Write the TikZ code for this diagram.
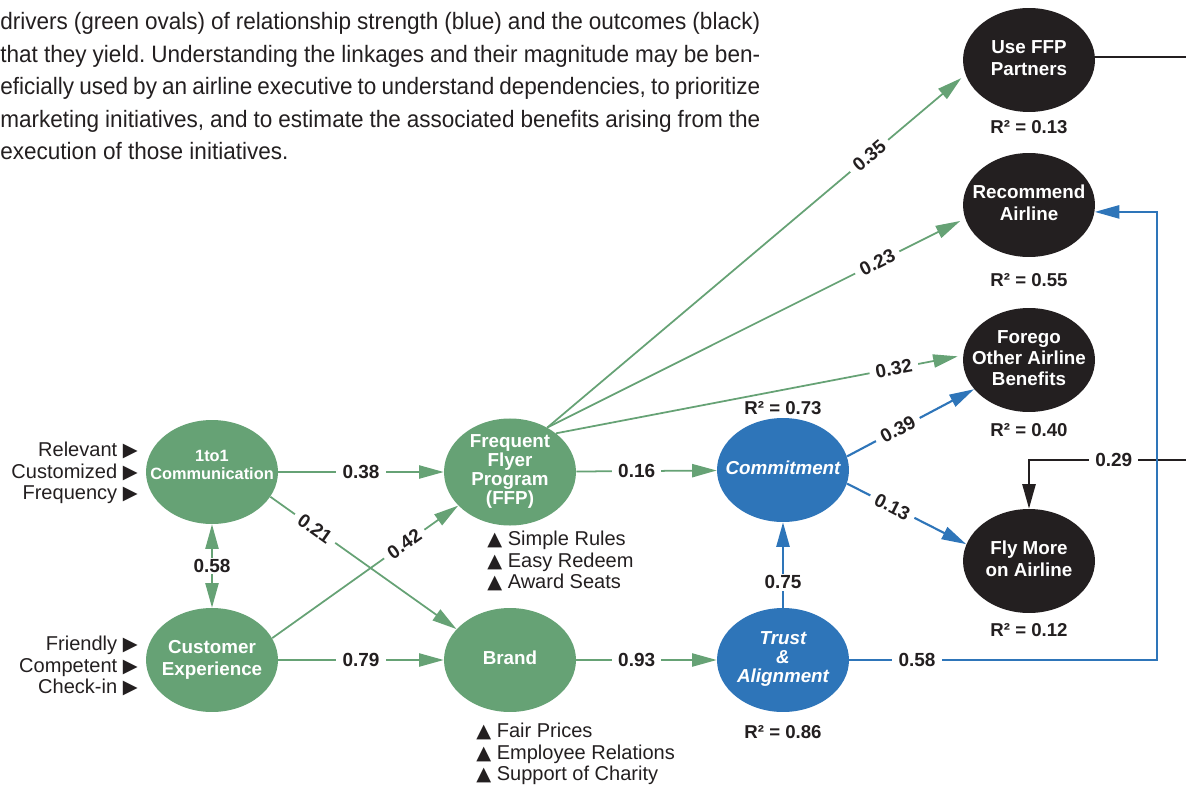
\documentclass[tikz,border=0pt]{standalone}
\usepackage{fontspec}
\setmainfont{Liberation Sans}
\newfontfamily\symfont{DejaVu Sans}
\newfontfamily\parafont[FakeStretch=0.95]{Liberation Sans}
\usetikzlibrary{arrows.meta,shapes.geometric}
\definecolor{fgreen}{HTML}{66A275}
\definecolor{fblue}{HTML}{2E75B9}
\definecolor{fblack}{HTML}{231F20}
\newcommand{\rtri}{{\symfont\fontsize{11}{11}\selectfont ▶}}
\newcommand{\utri}{{\symfont\fontsize{11}{11}\selectfont ▲}}
\newcommand{\ovaltext}[1]{\makebox[0pt]{\begin{tabular}{@{}c@{}}#1\end{tabular}}}
\frenchspacing

\begin{document}
\begin{tikzpicture}[x=0.02cm,y=-0.02cm,
  oval/.style={ellipse,minimum width=2.64cm,minimum height=2.08cm,inner sep=0pt,text=white,font=\bfseries\fontsize{10.7}{12.5}\selectfont},
  driver/.style={oval,fill=fgreen},
  strength/.style={oval,fill=fblue,font=\bfseries\itshape\fontsize{10.7}{12.5}\selectfont},
  outcome/.style={oval,fill=fblack},
  rsq/.style={inner sep=0pt,text=fblack,font=\bfseries\fontsize{10.6}{12}\selectfont},
  lbl/.style={fill=white,inner xsep=3.5pt,inner ysep=1pt,text=fblack,font=\bfseries\fontsize{10.8}{12}\selectfont},
  items/.style={inner sep=0pt,text=fblack,font=\fontsize{11.4}{12.2}\selectfont},
  tip/.style={-{Triangle[length=14pt,width=7.5pt]}}]

\useasboundingbox (0,0) rectangle (1186,787);

\node[anchor=north west,text width=15.2cm,align=justify,inner sep=0pt,text=fblack,
  font=\parafont\fontsize{13.5}{18.5}\selectfont] (intro) at (0,12)
  {drivers (green ovals) of relationship strength (blue) and the outcomes (black)\linebreak
   that they yield. Understanding the linkages and their magnitude may be ben-\linebreak
   eficially used by an airline executive to understand dependencies, to prioritize\linebreak
   marketing initiatives, and to estimate the associated benefits arising from the\linebreak
   execution of those initiatives.};

\node[driver,font=\bfseries\fontsize{9.3}{10.3}\selectfont] (comm) at (212,472) {\ovaltext{1to1\\Communication\\[6pt]}};
\node[driver] (cx) at (212,660) {\ovaltext{Customer\\Experience}};
\node[driver,font=\bfseries\fontsize{10.7}{10.6}\selectfont] (ffp) at (510,472) {\ovaltext{Frequent\\Flyer\\Program\\(FFP)}};
\node[driver] (brand) at (510,660) {\ovaltext{Brand}};
\node[strength] (commit) at (783,470) {\ovaltext{Commitment}};
\node[strength,font=\bfseries\itshape\fontsize{10.7}{10.8}\selectfont] (trust) at (783,660) {\ovaltext{Trust\\\&\\Alignment}};
\node[outcome] (partners) at (1029,60) {\ovaltext{Use FFP\\Partners}};
\node[outcome] (recommend) at (1029,205) {\ovaltext{Recommend\\Airline}};
\node[outcome,font=\bfseries\fontsize{10.7}{12}\selectfont] (forego) at (1029,360) {\ovaltext{Forego\\Other Airline\\Benefits}};
\node[outcome] (flymore) at (1029,561) {\ovaltext{Fly More\\on Airline}};

\node[rsq] (rpartners) at (1029,127) {R² = 0.13};
\node[rsq] (rrecommend) at (1029,280) {R² = 0.55};
\node[rsq] (rforego) at (1029,430) {R² = 0.40};
\node[rsq] (rflymore) at (1029,630) {R² = 0.12};
\node[rsq] (rcommit) at (783,408) {R² = 0.73};
\node[rsq] (rtrust) at (783,732) {R² = 0.86};

\node[items,anchor=east,align=right] (commlist) at (138,473) {Relevant \rtri\\Customized \rtri\\Frequency \rtri};
\node[items,anchor=east,align=right] (cxlist) at (138,666) {Friendly \rtri\\Competent \rtri\\Check-in \rtri};
\node[items,anchor=west,align=left] (ffplist) at (487,561) {\utri\ Simple Rules\\\utri\ Easy Redeem\\\utri\ Award Seats};
\node[items,anchor=west,align=left] (brandlist) at (476,754) {\utri\ Fair Prices\\\utri\ Employee Relations\\\utri\ Support of Charity};

\coordinate (bend) at (1157,400);
\coordinate (edgetop) at (1186,57);
\coordinate (edgemid) at (1186,460);

\begin{scope}[line width=1pt,every node/.style={lbl}]
%driver edges
\draw[fgreen,tip] (comm) -- node{0.38} (ffp);
\draw[fgreen,{Triangle[length=14pt,width=7.5pt]}-{Triangle[length=14pt,width=7.5pt]}] (comm) -- node{0.58} (cx);
\draw[fgreen,tip] (comm.-23) -- node[sloped,pos=0.24]{0.21} (brand.150);
\draw[fgreen,tip] (cx.20) -- node[sloped,pos=0.71]{0.42} (ffp.213);
\draw[fgreen,tip] (cx) -- node{0.79} (brand);
\draw[fgreen,tip] (ffp) -- node[pos=0.43]{0.16} (commit);
\draw[fgreen,tip] (brand) -- node[pos=0.43]{0.93} (trust);
%ffp to outcomes
\draw[fgreen,tip,shorten >=3pt] (ffp.50) -- node[sloped,pos=0.77]{0.35} (partners.193);
\draw[fgreen,tip,shorten >=3pt] (ffp.50) -- node[sloped,pos=0.79]{0.23} (recommend.192);
\draw[fgreen,tip,shorten >=3pt] (ffp.40) -- node[sloped,pos=0.83]{0.32} (forego.176);
%black links
\draw[fblack,line width=1.2pt] (partners.east |- edgetop) -- (edgetop);
\draw[fblack,line width=1.2pt,tip] (edgemid) -| node[pos=0.23]{0.29} (flymore);
%strength edges
\begin{scope}[line width=1.2pt]
\draw[fblue,tip] (trust) -- node[pos=0.3]{0.75} (commit);
\draw[fblue,tip] (commit.12) -- node[sloped,pos=0.4]{0.39} (forego.208);
\draw[fblue,tip] (commit.348) -- node[sloped,pos=0.38]{0.13} (flymore.165);
\draw[fblue,tip] (trust) -- node[pos=0.22]{0.58} (trust -| bend) |- (recommend.354);
\end{scope}
\end{scope}
\end{tikzpicture}
\end{document}
